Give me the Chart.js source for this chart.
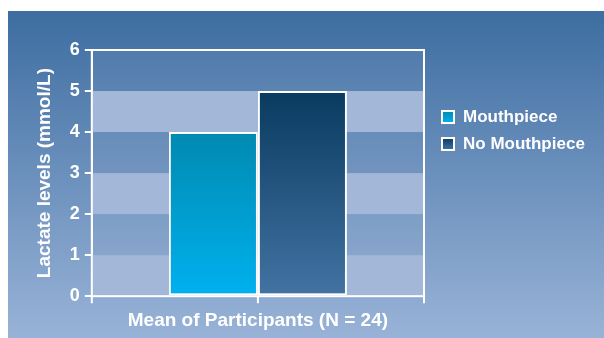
<html lang="en">
<head>
    <meta charset="UTF-8">
    <title>Lactate levels</title>
    <script src="https://cdn.jsdelivr.net/npm/chart.js@4.4.1/dist/chart.umd.min.js"></script>
    <style>
        body { margin: 0; background: #fff; }
        #wrap { position: absolute; left: 8px; top: 11px; width: 596px; height: 327px; }
    </style>
</head>
<body>
    <div id="wrap"><canvas id="chart"></canvas></div>

    <script>
        // values
        const categories = [''];
        const seriesNames = ['Mouthpiece', 'No Mouthpiece'];
        const mouthpiece = [4];
        const noMouthpiece = [5];
        const yTicks = [0, 1, 2, 3, 4, 5, 6];

        const FONT = '"Liberation Sans", Arial, sans-serif';

        // top / bottom colours of each bar gradient
        const barColors = [
            ['#008ab0', '#00b1ef'],
            ['#093a5f', '#4373a3']
        ];

        function barGradient(i) {
            return (ctx) => {
                const chart = ctx.chart;
                const area = chart.chartArea;
                if (!area) return barColors[i][1];
                const y = chart.scales.y;
                const top = y.getPixelForValue(ctx.raw);
                const g = chart.ctx.createLinearGradient(0, top, 0, area.bottom);
                g.addColorStop(0, barColors[i][0]);
                g.addColorStop(1, barColors[i][1]);
                return g;
            };
        }

        // page background, bands, frame, bottom ticks and legend
        const decor = {
            id: 'decor',
            beforeDraw(chart) {
                const c = chart.ctx;
                const g = c.createLinearGradient(0, 0, 0, chart.height);
                g.addColorStop(0, '#3d6da1');
                g.addColorStop(1, '#99b3d7');
                c.save();
                c.fillStyle = g;
                c.fillRect(0, 0, chart.width, chart.height);
                c.restore();
            },
            beforeDatasetsDraw(chart) {
                const c = chart.ctx;
                const a = chart.chartArea;
                const y = chart.scales.y;
                c.save();
                for (let v = 0; v < yTicks.length - 1; v++) {
                    const top = y.getPixelForValue(yTicks[v + 1]);
                    const bot = y.getPixelForValue(yTicks[v]);
                    c.fillStyle = v % 2 === 0 ? '#a3b7d9' : 'rgba(255,255,255,0.05)';
                    c.fillRect(a.left, top, a.right - a.left, bot - top);
                }
                c.restore();
            },
            afterDraw(chart) {
                const c = chart.ctx;
                const a = chart.chartArea;
                const x = chart.scales.x;
                c.save();
                c.strokeStyle = '#fff';
                c.lineWidth = 2;
                c.strokeRect(a.left, a.top, a.right - a.left, a.bottom - a.top);
                c.beginPath();
                [a.left, x.getPixelForValue(0), a.right].forEach(px => {
                    c.moveTo(px, a.bottom);
                    c.lineTo(px, a.bottom + 7);
                });
                c.stroke();

                // legend
                c.font = 'bold 17px ' + FONT;
                c.textBaseline = 'middle';
                const lx = 434, ly = [106, 133];
                chart.data.datasets.forEach((ds, i) => {
                    const g = c.createLinearGradient(0, ly[i] - 6, 0, ly[i] + 6);
                    g.addColorStop(0, barColors[i][0]);
                    g.addColorStop(1, barColors[i][1]);
                    c.fillStyle = g;
                    c.fillRect(lx, ly[i] - 6, 12, 12);
                    c.lineWidth = 2;
                    c.strokeRect(lx, ly[i] - 6, 12, 12);
                    c.fillStyle = '#fff';
                    c.fillText(ds.label, lx + 21, ly[i]);
                });
                c.restore();
            }
        };

        new Chart(document.getElementById('chart'), {
            type: 'bar',
            data: {
                labels: categories,
                datasets: [
                    { label: seriesNames[0], data: mouthpiece, backgroundColor: barGradient(0) },
                    { label: seriesNames[1], data: noMouthpiece, backgroundColor: barGradient(1) }
                ]
            },
            options: {
                responsive: true,
                maintainAspectRatio: false,
                animation: false,
                layout: { padding: { left: 25, right: 180, top: 39, bottom: 6 } },
                datasets: {
                    bar: {
                        borderColor: '#fff',
                        borderWidth: 2,
                        borderSkipped: false,
                        categoryPercentage: 0.536,
                        barPercentage: 1
                    }
                },
                plugins: {
                    legend: { display: false },
                    tooltip: { enabled: false }
                },
                scales: {
                    x: {
                        grid: { display: false },
                        border: { display: false },
                        ticks: { display: false },
                        title: {
                            display: true,
                            text: 'Mean of Participants (N = 24)',
                            color: '#fff',
                            font: { family: FONT, size: 19, weight: 'bold' },
                            padding: { top: 5, bottom: 0 }
                        }
                    },
                    y: {
                        min: 0,
                        max: 6,
                        afterBuildTicks: (axis) => { axis.ticks = yTicks.map(v => ({ value: v })); },
                        grid: { drawOnChartArea: false, drawTicks: true, tickLength: 7, color: '#fff', lineWidth: 2 },
                        border: { color: '#fff', width: 2 },
                        ticks: {
                            color: '#fff',
                            padding: 5,
                            font: { family: FONT, size: 18, weight: 'bold' }
                        },
                        title: {
                            display: true,
                            text: 'Lactate levels (mmol/L)',
                            color: '#fff',
                            font: { family: FONT, size: 19, weight: 'bold' },
                            padding: { top: 0, bottom: 9 }
                        }
                    }
                }
            },
            plugins: [decor]
        });
    </script>
</body>
</html>
